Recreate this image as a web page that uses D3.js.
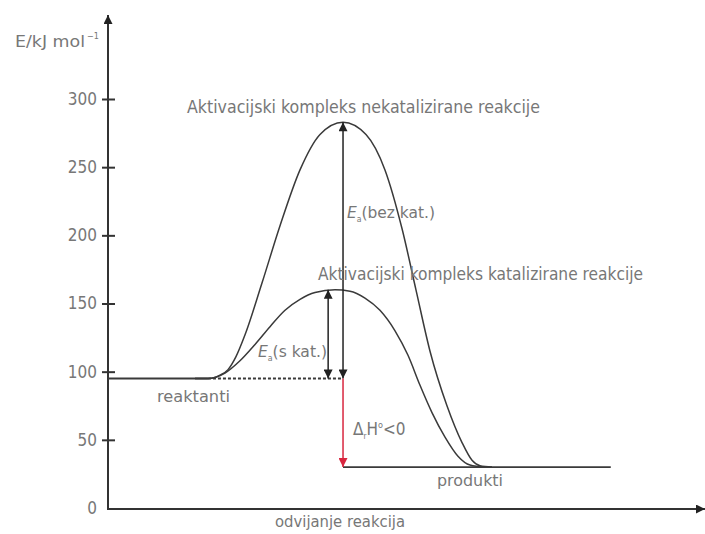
<!DOCTYPE html>
<html><head><meta charset="utf-8">
<script src="https://cdn.jsdelivr.net/npm/d3@7"></script>
<style>
html,body{margin:0;padding:0;background:#fff;}
text{font-family:"DejaVu Sans Condensed","Liberation Sans Narrow","Roboto",sans-serif;fill:#777;}
</style></head>
<body><svg id="c" width="705" height="534"></svg>
<script>
// ---- data ----
const yTicks = [0, 50, 100, 150, 200, 250, 300];
const reactantEnergy = 95;
const productEnergy = 30;
const uncatPeak = 283;
const catPeak = 160;
// reaction progress (0 = axis origin, 100 = arrow tip) and energy in kJ/mol
const uncatProgress = [14.62, 16.81, 18.82, 20.17, 21.51, 23.03, 25.88, 28.91, 32.27, 35.63, 39.50, 43.36, 46.55, 49.41, 51.76, 54.12, 56.97, 59.50, 61.18, 62.52, 64.54];
const uncatEnergy   = [95, 95, 97.5, 101.5, 111, 127, 165, 207, 248, 274, 283, 274, 248, 205, 160, 115, 75, 48, 35, 31, 30];
const catProgress   = [14.62, 16.81, 19.66, 22.18, 24.71, 27.23, 29.75, 32.27, 34.79, 38.15, 40.67, 43.19, 45.71, 48.24, 50.42, 52.44, 54.45, 56.64, 58.82, 60.84, 63.36];
const catEnergy     = [95, 95, 99, 108, 120, 133, 145, 153, 158, 160, 159, 154, 145, 130, 112, 90, 70, 52, 38, 31.5, 30];
const reactantLine  = [0, 16.8];
const dashedLine    = [16.8, 39.5];
const productLine   = [39.5, 84.5];
const peakUncatX = 39.5;
const peakCatX = 37.0;
const labels = {
  yTitle: "E/kJ mol",
  uncat: "Aktivacijski kompleks nekatalizirane reakcije",
  cat: "Aktivacijski kompleks katalizirane reakcije",
  reaktanti: "reaktanti",
  produkti: "produkti",
  xTitle: "odvijanje reakcija"
};

// ---- drawing ----
const svg = d3.select("#c");
const x = d3.scaleLinear().domain([0, 100]).range([108, 703]);
const y = d3.scaleLinear().domain([0, 300]).range([508, 99]);
const axisCol = "#333";

const defs = svg.append("defs");
function marker(id, col) {
  defs.append("marker").attr("id", id).attr("viewBox", "0 0 10 10")
    .attr("refX", 10).attr("refY", 5).attr("markerWidth", 10).attr("markerHeight", 9)
    .attr("markerUnits", "userSpaceOnUse").attr("orient", "auto-start-reverse")
    .append("path").attr("d", "M0,0 L10,5 L0,10 Z").attr("fill", col);
}
marker("ab", "#222");
marker("ar", "#d8263f");

// y axis
svg.append("line").attr("x1", 108).attr("x2", 108).attr("y1", 509).attr("y2", 15)
  .attr("stroke", axisCol).attr("stroke-width", 2).attr("marker-end", "url(#ab)");
// x axis
svg.append("line").attr("x1", 107).attr("x2", 705).attr("y1", 509).attr("y2", 509)
  .attr("stroke", axisCol).attr("stroke-width", 2).attr("marker-end", "url(#ab)");

const yAxis = d3.axisLeft(y).tickValues(yTicks).tickSize(0).tickPadding(11);
const ga = svg.append("g").attr("transform", "translate(108,0)").call(yAxis);
ga.select(".domain").remove();
ga.selectAll("text").style("font-size", "17px").attr("fill", "#777").style("font-family", null);
ga.selectAll(".tick").filter(d => d > 0).append("line")
  .attr("x1", -6).attr("x2", 7).attr("stroke", axisCol).attr("stroke-width", 2);

// lines
const lineCol = "#3a3a3a";
svg.append("line").attr("x1", x(reactantLine[0])).attr("x2", x(reactantLine[1]))
  .attr("y1", y(reactantEnergy)).attr("y2", y(reactantEnergy)).attr("stroke", lineCol).attr("stroke-width", 1.8);
svg.append("line").attr("x1", x(dashedLine[0])).attr("x2", x(dashedLine[1]))
  .attr("y1", y(reactantEnergy)).attr("y2", y(reactantEnergy)).attr("stroke", lineCol)
  .attr("stroke-width", 1.8).attr("stroke-dasharray", "3,2");
svg.append("line").attr("x1", x(productLine[0])).attr("x2", x(productLine[1]))
  .attr("y1", y(productEnergy)).attr("y2", y(productEnergy)).attr("stroke", lineCol).attr("stroke-width", 1.8);

const lineGen = d3.line().x(d => x(d[0])).y(d => y(d[1])).curve(d3.curveMonotoneX);
svg.append("path").attr("d", lineGen(d3.zip(uncatProgress, uncatEnergy)))
  .attr("fill", "none").attr("stroke", lineCol).attr("stroke-width", 1.5);
svg.append("path").attr("d", lineGen(d3.zip(catProgress, catEnergy)))
  .attr("fill", "none").attr("stroke", lineCol).attr("stroke-width", 1.5);

// arrows
svg.append("line").attr("x1", x(peakUncatX)).attr("x2", x(peakUncatX))
  .attr("y1", y(uncatPeak)).attr("y2", y(reactantEnergy))
  .attr("stroke", "#222").attr("stroke-width", 1.5)
  .attr("marker-start", "url(#ab)").attr("marker-end", "url(#ab)");
svg.append("line").attr("x1", x(peakCatX)).attr("x2", x(peakCatX))
  .attr("y1", y(catPeak)).attr("y2", y(reactantEnergy))
  .attr("stroke", "#222").attr("stroke-width", 1.5)
  .attr("marker-start", "url(#ab)").attr("marker-end", "url(#ab)");
svg.append("line").attr("x1", x(peakUncatX)).attr("x2", x(peakUncatX))
  .attr("y1", y(reactantEnergy)).attr("y2", y(productEnergy))
  .attr("stroke", "#d8263f").attr("stroke-width", 1.5)
  .attr("marker-end", "url(#ar)");

// texts
function txt(s, px, py, size, w) {
  const t = svg.append("text").attr("x", px).attr("y", py).style("font-size", size + "px").text(s);
  if (w) t.attr("textLength", w).attr("lengthAdjust", "spacingAndGlyphs");
  return t;
}
txt(labels.yTitle, 15, 47, 16, 70);
svg.append("text").attr("x", 87).attr("y", 39).style("font-size", "9px").text("−1");
txt(labels.uncat, 187, 113, 17, 353);
txt(labels.cat, 318, 280, 17, 325);
txt(labels.reaktanti, 157, 402, 16, 73);
txt(labels.produkti, 437, 486, 16, 66);
txt(labels.xTitle, 275, 527, 16, 130);

// Ea labels
const e1 = svg.append("text").attr("x", 347).attr("y", 218).style("font-size", "16px")
  .attr("textLength", 88).attr("lengthAdjust", "spacingAndGlyphs");
e1.append("tspan").text("E").style("font-style", "italic");
e1.append("tspan").text("a").attr("dy", 4).style("font-size", "8px");
e1.append("tspan").text("(bez kat.)").attr("dy", -4);
const e2 = svg.append("text").attr("x", 258).attr("y", 357).style("font-size", "16px")
  .attr("textLength", 69).attr("lengthAdjust", "spacingAndGlyphs");
e2.append("tspan").text("E").style("font-style", "italic");
e2.append("tspan").text("a").attr("dy", 4).style("font-size", "8px");
e2.append("tspan").text("(s kat.)").attr("dy", -4);
const e3 = svg.append("text").attr("x", 353).attr("y", 435).style("font-size", "17px");
e3.append("tspan").text("Δ");
e3.append("tspan").text("r").attr("dy", 4).style("font-size", "8px");
e3.append("tspan").text("H").attr("dy", -4);
e3.append("tspan").text("o").attr("dy", -7).style("font-size", "9px");
e3.append("tspan").text("<0").attr("dy", 7);
</script></body></html>
